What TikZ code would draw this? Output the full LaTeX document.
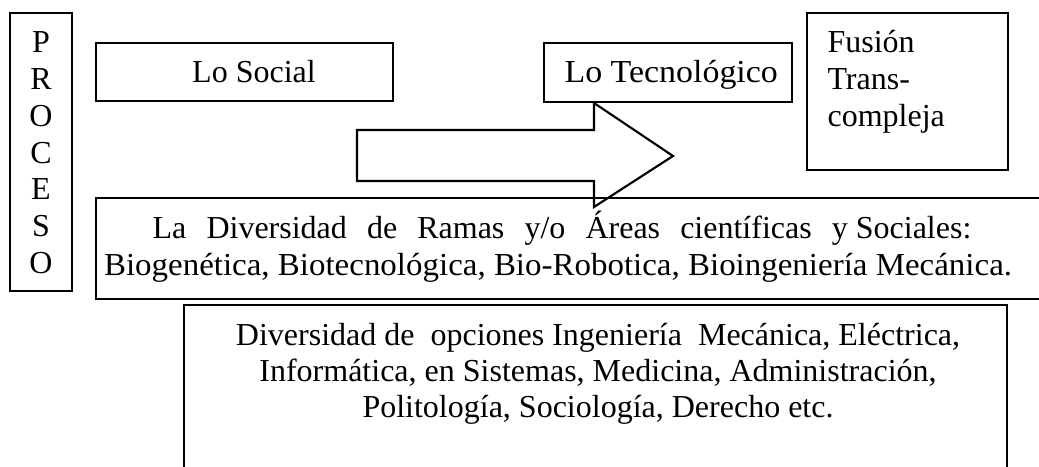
\documentclass[tikz,border=0pt]{standalone}
\usepackage{fontspec}
\setmainfont{Liberation Serif}
\begin{document}
\begin{tikzpicture}[x=0.375pt,y=-0.375pt,
  box/.style={draw,line width=0.8pt,inner sep=0pt},
  txt/.style={font=\fontsize{12}{13.8}\selectfont,inner sep=0pt}]
\useasboundingbox (0,0) rectangle (1039,467);
\clip (0,0) rectangle (1039,467);
% boxes
\draw[box] (10,13) rectangle (72,291);
\draw[box] (96,43) rectangle (393,101);
\draw[box] (544,43) rectangle (792,102);
\draw[box] (807,13) rectangle (1008,170);
\draw[box] (96,198) rectangle (1060,299);
\draw[box] (184,305) rectangle (1007,480);
% arrow
\draw[box,line join=miter] (357,130) -- (594,130) -- (594,103) -- (673,156) -- (594,207) -- (594,181) -- (357,181) -- cycle;
% texts
\node[txt,align=center] (proceso) at (41,152.75) {P\\R\\O\\C\\E\\S\\O};
\node[txt,anchor=base] (social) at (254,83) {Lo Social};
\node[txt,anchor=base west] (tecno) at (564,83) {\scalebox{1.06}[1]{Lo Tecnológico}};
\node[txt,anchor=base west] (fus1) at (827,53) {Fusión};
\node[txt,anchor=base west] (fus2) at (827,90) {Trans-};
\node[txt,anchor=base west] (fus3) at (827,127) {compleja};
\node[txt,anchor=base] (ramas1) at (562,238) {\makebox[307pt][s]{La Diversidad de Ramas y/o Áreas científicas \mbox{y Sociales:}}};
\node[txt,anchor=base] (ramas2) at (558,275) {\scalebox{1.03}[1]{Biogenética, Biotecnológica, Bio-Robotica, Bioingeniería Mecánica.}};
\node[txt,anchor=base] (op1) at (598,345) {Diversidad de\ \ opciones Ingeniería\ \ Mecánica, Eléctrica,};
\node[txt,anchor=base] (op2) at (598,381) {Informática, en Sistemas, Medicina, Administración,};
\node[txt,anchor=base] (op3) at (598,417) {Politología, Sociología, Derecho etc.};
\end{tikzpicture}
\end{document}
